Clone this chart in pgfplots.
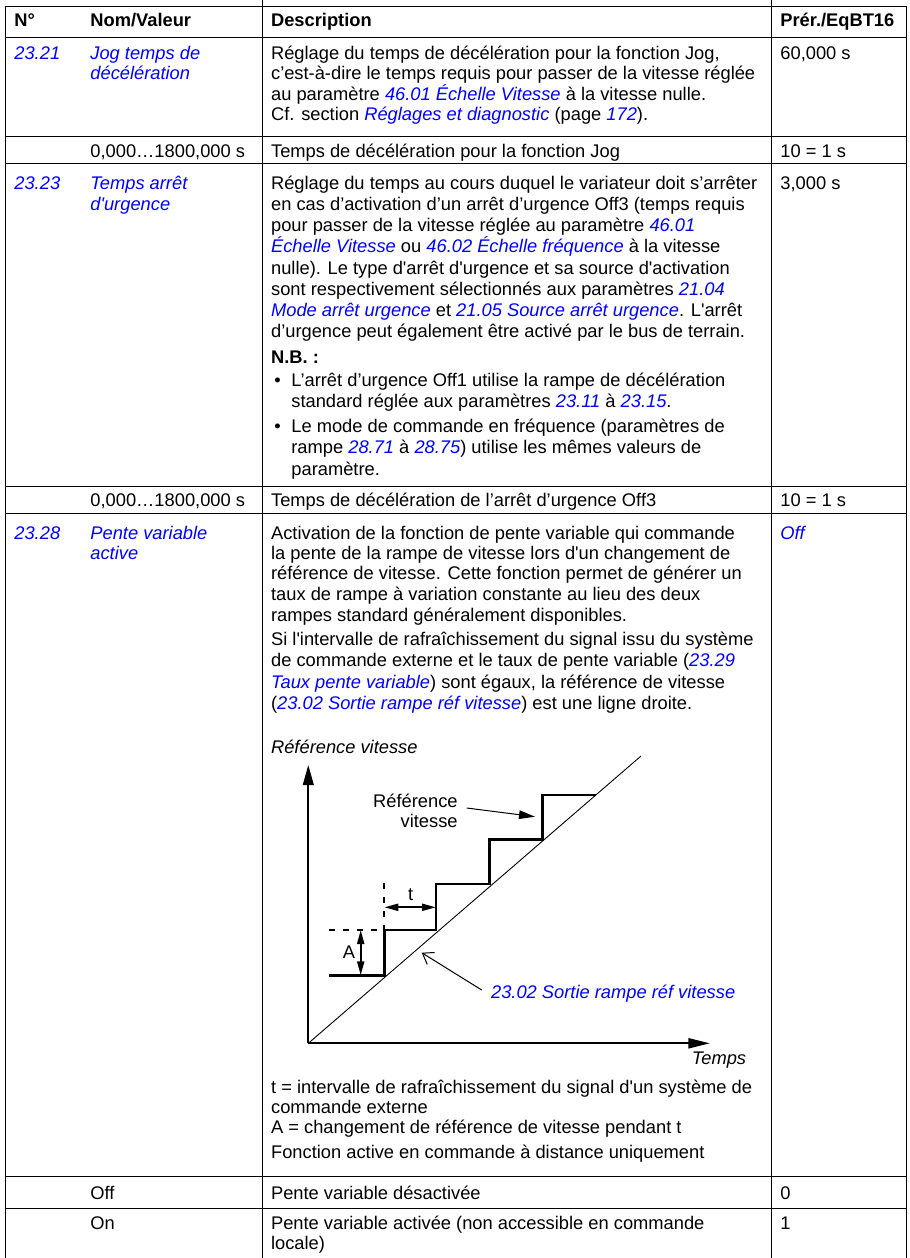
\documentclass[border=0pt]{standalone}
\usepackage{fontspec}
\setmainfont{Liberation Sans}
\usepackage{xcolor}
\usepackage{pgfplots}
\pgfplotsset{compat=1.18}
\usetikzlibrary{arrows.meta}
\definecolor{lb}{RGB}{0,0,255}
\newcommand{\lk}[1]{{\color{lb}\itshape #1}}
\newcommand{\q}{\textquotesingle}
\newcommand{\fs}{\fontsize{9.15}{11}\selectfont}
\newcommand{\T}[3]{\node[anchor=base west,inner sep=0pt,font=\fs] at (axis cs:#1,#2) {#3};}
\newcommand{\B}[3]{\node[anchor=base west,inner sep=0pt,font=\fs\bfseries] at (axis cs:#1,#2) {#3};}
\newcommand{\HL}[1]{\draw[line width=0.5pt] (axis cs:5.3,#1) -- (axis cs:906,#1);}
\begin{document}
\begin{tikzpicture}
\begin{axis}[at={(0,0)},anchor=south west,width=455pt,height=629pt,scale only axis,
  xmin=0,xmax=910,ymin=0,ymax=1258,y dir=reverse,axis lines=none,clip=false]
% ---------- table rules
\HL{6}
\HL{37.7}
\HL{136}
\HL{163.5}
\HL{486}
\HL{513.3}
\HL{1176.7}
\HL{1208.3}
\draw[line width=0.5pt] (5.3,6) -- (5.3,1258);
\draw[line width=0.5pt] (262.3,0) -- (262.3,1258);
\draw[line width=0.5pt] (771,0) -- (771,1258);
\draw[line width=0.5pt] (906,6) -- (906,1258);
% ---------- header
\B{14}{26}{N°}
\B{90}{26}{Nom/Valeur}
\B{270.7}{26}{Description}
\B{780}{26}{Prér./EqBT16}
% ---------- 23.21
\T{14}{59.3}{\lk{23.21}}
\T{90}{59.3}{\lk{Jog temps de}}
\T{90}{79.5}{\lk{décélération}}
\T{270.7}{59.3}{Réglage du temps de décélération pour la fonction Jog,}
\T{270.7}{79.5}{c’est-à-dire le temps requis pour passer de la vitesse réglée}
\T{270.7}{100}{au paramètre \lk{46.01 Échelle Vitesse} à la vitesse nulle.}
\T{270.7}{120.5}{Cf. section \lk{Réglages et diagnostic} (page \lk{172}).}
\T{780}{59.3}{60,000 s}
% ---------- range
\T{90}{157}{0,000…1800,000 s}
\T{270.7}{157}{Temps de décélération pour la fonction Jog}
\T{780}{157}{10 = 1 s}
% ---------- 23.23
\T{14}{189.3}{\lk{23.23}}
\T{90}{189.3}{\lk{Temps arrêt}}
\T{90}{210.5}{\lk{d\q urgence}}
\T{780}{189.3}{3,000 s}
\T{270.7}{189.3}{Réglage du temps au cours duquel le variateur doit s’arrêter}
\T{270.7}{210.5}{en cas d’activation d’un arrêt d’urgence Off3 (temps requis}
\T{270.7}{231.5}{pour passer de la vitesse réglée au paramètre \lk{46.01}}
\T{270.7}{252.7}{\lk{Échelle Vitesse} ou \lk{46.02 Échelle fréquence} à la vitesse}
\T{270.7}{274}{nulle). Le type d\q arrêt d\q urgence et sa source d\q activation}
\T{270.7}{295.3}{sont respectivement sélectionnés aux paramètres \lk{21.04}}
\T{270.7}{316.5}{\lk{Mode arrêt urgence} et \lk{21.05 Source arrêt urgence}. L\q arrêt}
\T{270.7}{337.5}{d’urgence peut également être activé par le bus de terrain.}
\B{270.7}{363}{N.B. :}
\T{274}{386.5}{•}
\T{291}{386.5}{L’arrêt d’urgence Off1 utilise la rampe de décélération}
\T{291}{407.5}{standard réglée aux paramètres \lk{23.11} à \lk{23.15}.}
\T{274}{432}{•}
\T{291}{432}{Le mode de commande en fréquence (paramètres de}
\T{291}{453.5}{rampe \lk{28.71} à \lk{28.75}) utilise les mêmes valeurs de}
\T{291}{475}{paramètre.}
% ---------- range 2
\T{90}{506.5}{0,000…1800,000 s}
\T{270.7}{506.5}{Temps de décélération de l’arrêt d’urgence Off3}
\T{780}{506.5}{10 = 1 s}
% ---------- 23.28
\T{14}{539.3}{\lk{23.28}}
\T{90}{539.3}{\lk{Pente variable}}
\T{90}{559.5}{\lk{active}}
\T{780}{539.3}{\lk{Off}}
\T{270.7}{539.3}{Activation de la fonction de pente variable qui commande}
\T{270.7}{559.5}{la pente de la rampe de vitesse lors d\q un changement de}
\T{270.7}{579.8}{référence de vitesse. Cette fonction permet de générer un}
\T{270.7}{600.2}{taux de rampe à variation constante au lieu des deux}
\T{270.7}{621}{rampes standard généralement disponibles.}
\T{270.7}{645.5}{Si l\q intervalle de rafraîchissement du signal issu du système}
\T{270.7}{666.5}{de commande externe et le taux de pente variable (\lk{23.29}}
\T{270.7}{688}{\lk{Taux pente variable}) sont égaux, la référence de vitesse}
\T{270.7}{709.5}{(\lk{23.02 Sortie rampe réf vitesse}) est une ligne droite.}
\T{270.7}{753.5}{\itshape Référence vitesse}
% ---------- diagram
\addplot[line width=1.1pt,-{Triangle[length=10pt,width=5.3pt]}] coordinates {(308.3,1043.3) (308.3,765)};
\addplot[line width=1.1pt,-{Triangle[length=10.8pt,width=5pt]}] coordinates {(308.3,1043.3) (710,1043.3)};
\addplot[line width=0.45pt] coordinates {(308.3,1043.3) (641,756)};
\addplot[line width=1.3pt,line join=miter] coordinates {
 (329.3,975.3) (384.3,975.3) (384.3,930) (436,930) (436,884)
 (489.3,884) (489.3,839.3) (542.7,839.3) (542.7,795) (596,795)};
\draw[line width=1.1pt,dash pattern=on 3pt off 4pt] (329.3,930) -- (384.3,930);
\draw[line width=1.1pt,dash pattern=on 3pt off 4pt] (384.3,883.3) -- (384.3,930);
\draw[line width=1pt,{Triangle[length=7pt,width=3.5pt]}-{Triangle[length=7pt,width=3.5pt]}] (384.3,907.3) -- (436,907.3);
\draw[line width=1pt,{Triangle[length=7pt,width=3.5pt]}-{Triangle[length=7pt,width=3.5pt]}] (360.7,930) -- (360.7,975.3);
\draw[line width=0.5pt,-{Triangle[length=8pt,width=4.3pt]}] (466.7,808) -- (535,816.7);
\draw[line width=0.5pt,-{Straight Barb[length=5pt,width=7pt]}] (481.7,990) -- (421.7,952.7);
\node[anchor=base east,inner sep=0pt,font=\fs] at (458,807) {Référence};
\node[anchor=base east,inner sep=0pt,font=\fs] at (458,827.7) {vitesse};
\node[anchor=base,inner sep=0pt,font=\fs] at (410.7,900) {t};
\node[anchor=base,inner sep=0pt,font=\fs] at (349,958.5) {A};
\T{490.7}{998.7}{\lk{23.02 Sortie rampe réf vitesse}}
\node[anchor=base,inner sep=0pt,font=\fs\itshape] at (719,1064) {Temps};
% ---------- notes
\T{270.7}{1093}{t = intervalle de rafraîchissement du signal d\q un système de}
\T{270.7}{1113}{commande externe}
\T{270.7}{1133}{A = changement de référence de vitesse pendant t}
\T{270.7}{1158}{Fonction active en commande à distance uniquement}
% ---------- Off / On
\T{90}{1199}{Off}
\T{270.7}{1199}{Pente variable désactivée}
\T{780}{1199}{0}
\T{90}{1229}{On}
\T{270.7}{1229}{Pente variable activée (non accessible en commande}
\T{270.7}{1249}{locale)}
\T{780}{1229}{1}
\end{axis}
\pgfresetboundingbox
\path (0,0) rectangle (455pt,629pt);
\end{tikzpicture}
\end{document}
